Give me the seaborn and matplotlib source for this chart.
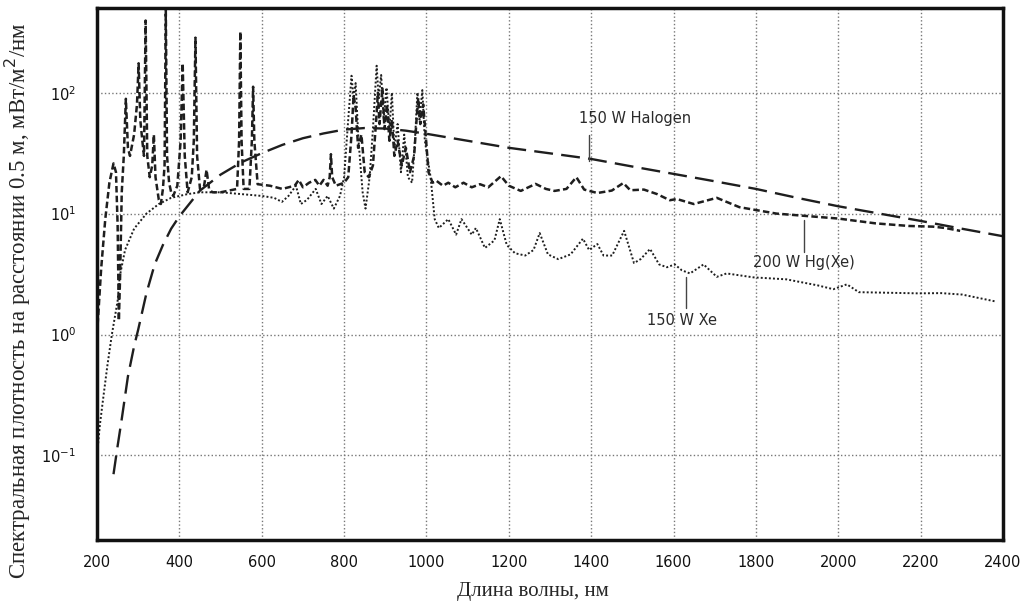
import matplotlib
matplotlib.use("Agg")
import matplotlib.pyplot as plt
import numpy as np
import pandas as pd
import seaborn as sns

# wavelength (nm) and spectral density (mW/m^2/nm)
hal_nm = [240, 250, 260, 275, 290, 300, 320, 340, 360, 380, 400, 450, 500, 550,
          600, 650, 700, 750, 800, 850, 900, 950, 1000, 1100, 1200, 1300, 1400,
          1500, 1600, 1700, 1800, 1900, 2000, 2100, 2200, 2300, 2400]
hal_val = [0.07, 0.12, 0.2, 0.45, 0.8, 1.1, 2.2, 3.8, 5.5, 7.5, 9.5, 15.5, 21, 26.5,
           31.6, 37, 42, 46, 49.5, 51, 50.5, 48.5, 45.7, 40, 35, 31.5, 28.3,
           24.5, 21.3, 18.5, 16, 13.5, 11.5, 10, 8.7, 7.5, 6.5]

hg_nm = [200, 210, 220, 230, 240, 246, 250, 253, 256, 260, 265, 270, 275, 280, 290,
         297, 301, 305, 310, 314, 318, 322, 328, 334, 338, 342, 350, 355, 360, 364,
         367, 370, 375, 380, 385, 395, 403, 408, 413, 420, 430, 435, 439, 443, 450,
         460, 466, 472, 480, 500, 520, 540, 545, 548, 551, 556, 570, 576, 579, 582,
         590, 620, 650, 680, 690, 700, 715, 730, 740, 750, 760, 765, 768, 771, 780,
         800, 810, 818, 823, 828, 834, 842, 850, 860, 870, 878, 882, 886, 893, 898,
         904, 910, 916, 922, 930, 940, 950, 960, 970, 976, 980, 985, 992, 998, 1005,
         1015, 1024, 1040, 1053, 1070, 1090, 1110, 1130, 1150, 1181, 1200, 1229, 1265,
         1290, 1311, 1340, 1364, 1383, 1415, 1450, 1478, 1495, 1528, 1560, 1591, 1608,
         1649, 1705, 1760, 1850, 2000, 2091, 2172, 2230, 2260, 2296]
hg_val = [1.0, 3.5, 9, 18, 26, 22, 8, 1.3, 3, 15, 30, 89, 35, 30, 45,
          80, 175, 60, 40, 30, 395, 30, 20, 25, 45, 20, 13, 12, 16, 25,
          480, 30, 18, 15, 14, 17, 40, 175, 30, 15, 20, 40, 285, 30, 16,
          17, 23, 16, 15, 15, 15.5, 16, 40, 320, 40, 16, 16, 40, 112, 40,
          17.5, 17, 16, 17, 19, 16.5, 18, 19, 17, 19, 17, 20, 31, 20, 17,
          18, 20, 45, 95, 75, 35, 45, 22, 20, 25, 60, 100, 55, 110, 50,
          80, 40, 60, 30, 40, 25, 35, 22, 30, 60, 90, 55, 80, 45, 22,
          18, 18.7, 17, 18, 16.5, 18, 16.5, 17.5, 16.5, 20.4, 17, 15.4, 17.6,
          16, 15.4, 16, 20, 15.8, 14.8, 15.5, 17.9, 15.6, 15.8, 14.5, 12.9, 13.2,
          12, 13.5, 11.3, 10, 9.1, 8.3, 7.9, 7.8, 7.6, 7.2]

xe_nm = [200, 207, 214, 225, 236, 250, 255, 268, 290, 320, 350, 380, 420, 450, 500,
         550, 600, 630, 649, 665, 683, 695, 710, 731, 745, 760, 775, 790, 800, 810,
         818, 823, 828, 835, 845, 852, 862, 870, 879, 884, 890, 896, 903, 910, 916,
         922, 930, 938, 946, 955, 965, 972, 978, 983, 990, 996, 1002, 1010, 1020, 1030,
         1053, 1072, 1085, 1110, 1120, 1142, 1165, 1178, 1195, 1215, 1240, 1260, 1275, 1295,
         1320, 1350, 1380, 1395, 1415, 1430, 1451, 1480, 1504, 1520, 1543, 1565, 1584,
         1603, 1620, 1640, 1673, 1705, 1729, 1794, 1874, 1950, 1988, 2021, 2050, 2195,
         2250, 2301, 2381]
xe_val = [0.1, 0.18, 0.28, 0.55, 1.0, 1.9, 3, 5, 7.5, 10, 12, 13.5, 14.5, 15, 15,
          14.5, 14, 13.5, 12.5, 14, 17, 12, 13, 16, 12, 14, 11, 14, 20, 60,
          138, 90, 120, 40, 15, 11, 20, 50, 167, 90, 140, 60, 110, 50, 100,
          35, 55, 22, 45, 20, 18, 40, 100, 60, 105, 40, 30, 20, 9, 7.6,
          9, 6.7, 9, 6.7, 7.6, 5.2, 6, 9, 5.5, 4.7, 4.5, 5, 6.9, 4.6,
          4.2, 4.6, 6.2, 5, 5.6, 4.5, 4.5, 7.2, 3.9, 4.2, 5.1, 3.8, 3.6,
          3.8, 3.4, 3.2, 3.8, 3.0, 3.2, 2.97, 2.86, 2.55, 2.37, 2.6, 2.24, 2.19,
          2.2, 2.14, 1.88]

x_ticks = [200, 400, 600, 800, 1000, 1200, 1400, 1600, 1800, 2000, 2200, 2400]

sns.set_style("white")
plt.rcParams['font.family'] = ['DejaVu Sans']

fig = plt.figure(figsize=(10.29, 6.03), dpi=100)
ax = fig.add_axes([0.0943, 0.1045, 0.8804, 0.882])

ink = '#1e1e1e'
sns.lineplot(x=hal_nm, y=hal_val, ax=ax, color=ink, lw=1.7,
             linestyle=(0, (8, 3.5)), estimator=None, errorbar=None)
sns.lineplot(x=hg_nm, y=hg_val, ax=ax, color=ink, lw=1.8,
             linestyle=(0, (2.6, 1.3)), estimator=None, errorbar=None)
sns.lineplot(x=xe_nm, y=xe_val, ax=ax, color=ink, lw=1.4,
             linestyle=(0, (1, 1.1)), estimator=None, errorbar=None)

ax.set_yscale('log')
ax.set_xlim(200, 2400)
ax.set_ylim(0.02, 500)
ax.set_xticks(x_ticks)

ax.grid(True, which='major', linestyle=':', color='#777777', lw=1)
for s in ax.spines.values():
    s.set_linewidth(2.5)
    s.set_color('#111111')

ax.tick_params(axis='x', which='major', direction='out', length=5, width=2,
               labelsize=10.5, pad=6, colors='#111111')
ax.tick_params(axis='y', which='major', direction='out', length=10, width=2.5,
               labelsize=10.5, pad=5, colors='#111111')
ax.tick_params(axis='y', which='minor', direction='out', length=9, width=1.2,
               colors='#333333')

serif = ['Liberation Serif', 'DejaVu Serif']
ax.set_ylabel('Спектральная плотность на расстоянии 0.5 м, мВт/м$^2$/нм',
              family=serif, fontsize=16.5)
ax.set_xlabel('Длина волны, нм', family=serif, fontsize=15)
ax.yaxis.set_label_coords(-0.071, 0.45)
ax.xaxis.set_label_coords(0.481, -0.079)

# labels with leader lines
txt_kw = dict(fontsize=10.5, color='#2a2a2a', ha='center', va='center')
ax.text(1507, 61, '150 W Halogen', **txt_kw)
ax.plot([1395, 1395], [45, 27], color='#444444', lw=1)
ax.text(1917, 3.95, '200 W Hg(Xe)', **txt_kw)
ax.plot([1917, 1917], [8.8, 4.8], color='#444444', lw=1)
ax.text(1620, 1.31, '150 W Xe', **txt_kw)
ax.plot([1630, 1630], [3.0, 1.65], color='#444444', lw=1)

fig.savefig('out.png', dpi=100)
